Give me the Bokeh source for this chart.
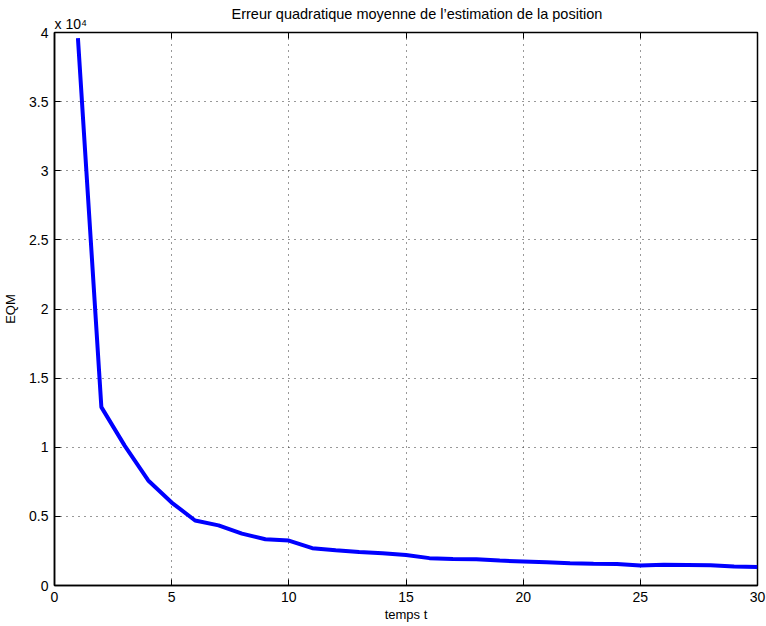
from bokeh.plotting import figure
from bokeh.models import Range1d, LinearAxis, FixedTicker, CustomJSTickFormatter, Title
from bokeh.embed import file_html
from bokeh.resources import INLINE

# Mean squared error of the position estimate over time
temps = list(range(1, 31))
eqm = [39600, 12900, 10100, 7600, 6000, 4700, 4350, 3750, 3350, 3250,
       2700, 2550, 2420, 2330, 2200, 1980, 1920, 1900, 1800, 1740,
       1680, 1610, 1570, 1550, 1450, 1500, 1490, 1470, 1370, 1330]

x_ticks = [0, 5, 10, 15, 20, 25, 30]
y_ticks = [0, 5000, 10000, 15000, 20000, 25000, 30000, 35000, 40000]

FONT = "Liberation Sans"

p = figure(width=766, height=626, output_backend="svg", toolbar_location=None,
           x_range=Range1d(0, 30), y_range=Range1d(0, 40000),
           min_border_left=54, min_border_right=9, min_border_top=32, min_border_bottom=41,
           background_fill_color="white", border_fill_color="white")

p.title.text = "Erreur quadratique moyenne de l\u2019estimation de la position"
p.title.align = "left"
p.title.offset = 177
p.title.standoff = -17
p.title.text_font = FONT
p.title.text_font_size = "14.5px"
p.title.text_font_style = "normal"
p.title.text_color = "black"

p.outline_line_color = "black"
p.outline_line_width = 1.5

for ax in (p.xaxis[0], p.yaxis[0]):
    ax.major_tick_in = 6
    ax.major_tick_out = 0
    ax.minor_tick_in = 0
    ax.minor_tick_out = 0
    ax.axis_line_width = 1.5
    ax.major_tick_line_width = 1
    ax.major_label_text_font = FONT
    ax.major_label_text_font_size = "14px"
    ax.major_label_text_color = "black"
    ax.axis_label_text_font = FONT
    ax.axis_label_text_font_size = "13px"
    ax.axis_label_text_font_style = "normal"
    ax.axis_label_text_color = "black"

p.xaxis[0].ticker = FixedTicker(ticks=x_ticks)
p.yaxis[0].ticker = FixedTicker(ticks=y_ticks)
p.yaxis[0].formatter = CustomJSTickFormatter(code="return String(tick / 10000);")
p.xaxis[0].axis_label = "temps t"
p.yaxis[0].axis_label = "EQM"
p.xaxis[0].major_label_standoff = 6
p.yaxis[0].major_label_standoff = 6
p.xaxis[0].axis_label_standoff = 2
p.yaxis[0].axis_label_standoff = 8

# tick marks on the top and right edges of the box, without labels
blank = CustomJSTickFormatter(code="return '';")
top = LinearAxis(ticker=FixedTicker(ticks=x_ticks), formatter=blank,
                 major_tick_in=6, major_tick_out=0, minor_tick_in=0, minor_tick_out=0,
                 major_label_standoff=0, axis_line_color=None)
right = LinearAxis(ticker=FixedTicker(ticks=y_ticks), formatter=blank,
                   major_tick_in=6, major_tick_out=0, minor_tick_in=0, minor_tick_out=0,
                   major_label_standoff=0, axis_line_color=None)
p.add_layout(top, "above")
p.add_layout(right, "right")

# exponent note above the y axis
p.add_layout(Title(text="x 10\u2074", align="left", standoff=1, text_font=FONT,
                   text_font_size="14px", text_font_style="normal", text_color="black"),
             "above")

p.xgrid.ticker = FixedTicker(ticks=x_ticks)
p.ygrid.ticker = FixedTicker(ticks=y_ticks)
for g in (p.xgrid[0], p.ygrid[0]):
    g.grid_line_color = "#333333"
    g.grid_line_dash = "1 5"
    g.grid_line_width = 1

p.line(temps, eqm, line_color="#0000ff", line_width=4)

open("out.html", "w").write(file_html(p, INLINE))
